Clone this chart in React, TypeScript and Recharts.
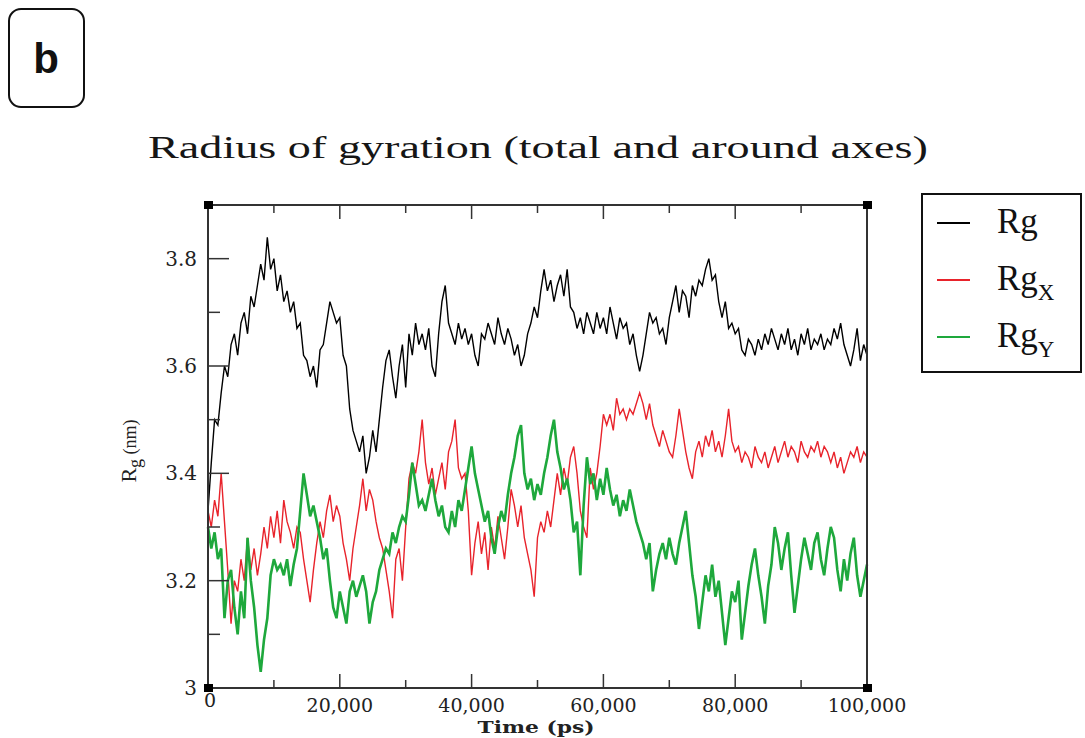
import React from 'react'
import { LineChart, Line, XAxis, YAxis, Legend, Label } from 'recharts'

// samples are 500 ps apart, from 0 to 100,000 ps
const TIME_STEP = 500

const rg = [
  3.33, 3.42, 3.5, 3.49, 3.55, 3.6, 3.58, 3.64, 3.66, 3.62,
  3.68, 3.7, 3.66, 3.73, 3.71, 3.75, 3.79, 3.76, 3.84, 3.78,
  3.8, 3.74, 3.77, 3.72, 3.74, 3.7, 3.72, 3.67, 3.68, 3.62,
  3.61, 3.58, 3.6, 3.56, 3.63, 3.64, 3.68, 3.72, 3.7, 3.68,
  3.69, 3.62, 3.6, 3.52, 3.48, 3.46, 3.44, 3.47, 3.4, 3.43,
  3.48, 3.44, 3.5, 3.56, 3.61, 3.63, 3.58, 3.54, 3.6, 3.64,
  3.56, 3.66, 3.62, 3.68, 3.64, 3.66, 3.63, 3.67, 3.6, 3.58,
  3.66, 3.72, 3.75, 3.68, 3.66, 3.64, 3.68, 3.65, 3.67, 3.64,
  3.66, 3.62, 3.6, 3.66, 3.65, 3.68, 3.66, 3.64, 3.69, 3.66,
  3.64, 3.67, 3.65, 3.62, 3.64, 3.6, 3.62, 3.66, 3.68, 3.71,
  3.69, 3.74, 3.78, 3.74, 3.76, 3.72, 3.75, 3.77, 3.73, 3.78,
  3.71, 3.7, 3.67, 3.69, 3.66, 3.7, 3.68, 3.66, 3.7, 3.67,
  3.69, 3.66, 3.71, 3.68, 3.65, 3.69, 3.67, 3.68, 3.64, 3.66,
  3.62, 3.59, 3.62, 3.66, 3.7, 3.68, 3.69, 3.66, 3.67, 3.64,
  3.69, 3.72, 3.75, 3.7, 3.74, 3.73, 3.69, 3.75, 3.73, 3.76,
  3.75, 3.78, 3.8, 3.76, 3.77, 3.72, 3.69, 3.72, 3.67, 3.68,
  3.66, 3.67, 3.63, 3.62, 3.65, 3.64, 3.62, 3.65, 3.63, 3.66,
  3.64, 3.67, 3.65, 3.63, 3.66, 3.64, 3.67, 3.63, 3.65, 3.62,
  3.66, 3.64, 3.67, 3.63, 3.65, 3.64, 3.66, 3.63, 3.65, 3.64,
  3.67, 3.65, 3.68, 3.64, 3.62, 3.6, 3.63, 3.67, 3.61, 3.64,
  3.62,
]

const rgX = [
  3.33, 3.3, 3.35, 3.32, 3.4, 3.31, 3.22, 3.12, 3.2, 3.18,
  3.24, 3.2, 3.28, 3.22, 3.26, 3.21, 3.25, 3.3, 3.26, 3.32,
  3.28, 3.33, 3.27, 3.35, 3.31, 3.29, 3.26, 3.3, 3.29, 3.24,
  3.2, 3.16, 3.22, 3.27, 3.31, 3.28, 3.33, 3.36, 3.31, 3.34,
  3.32, 3.27, 3.24, 3.2, 3.26, 3.3, 3.34, 3.39, 3.33, 3.37,
  3.35, 3.31, 3.28, 3.26, 3.22, 3.18, 3.13, 3.24, 3.26, 3.2,
  3.3, 3.39, 3.42, 3.4, 3.44, 3.5, 3.42, 3.38, 3.41, 3.36,
  3.39, 3.42, 3.37, 3.44, 3.46, 3.5, 3.41, 3.39, 3.4, 3.33,
  3.21, 3.27, 3.31, 3.25, 3.29, 3.22, 3.3, 3.26, 3.32, 3.28,
  3.24, 3.3, 3.37, 3.34, 3.3, 3.34, 3.28, 3.25, 3.22, 3.17,
  3.28, 3.31, 3.29, 3.33, 3.3, 3.35, 3.4, 3.36, 3.41, 3.38,
  3.43, 3.45, 3.4, 3.33, 3.3, 3.28, 3.41, 3.37, 3.4, 3.45,
  3.51, 3.49, 3.51, 3.48, 3.54, 3.51, 3.52, 3.5, 3.52, 3.51,
  3.53, 3.55, 3.53, 3.5, 3.53, 3.49, 3.47, 3.45, 3.48, 3.46,
  3.44, 3.43, 3.47, 3.52, 3.48, 3.44, 3.41, 3.39, 3.44, 3.46,
  3.43, 3.47, 3.45, 3.48, 3.44, 3.46, 3.43, 3.47, 3.52, 3.46,
  3.44, 3.45, 3.42, 3.44, 3.43, 3.41, 3.45, 3.43, 3.42, 3.44,
  3.41, 3.43, 3.45, 3.42, 3.44, 3.46, 3.43, 3.45, 3.44, 3.42,
  3.46, 3.44, 3.43, 3.45, 3.44, 3.46, 3.43, 3.45, 3.44, 3.42,
  3.44, 3.41, 3.43, 3.4, 3.42, 3.44, 3.43, 3.45, 3.42, 3.44,
  3.43,
]

const rgY = [
  3.3, 3.26, 3.29, 3.24, 3.26, 3.13, 3.2, 3.22, 3.15, 3.1,
  3.18, 3.13, 3.28, 3.2, 3.15, 3.08, 3.03, 3.09, 3.13, 3.21,
  3.24, 3.22, 3.23, 3.21, 3.24, 3.19, 3.23, 3.26, 3.33, 3.4,
  3.36, 3.32, 3.34, 3.31, 3.28, 3.24, 3.26, 3.2, 3.15, 3.13,
  3.18, 3.15, 3.12, 3.18, 3.2, 3.17, 3.19, 3.21, 3.18, 3.12,
  3.16, 3.18, 3.22, 3.24, 3.26, 3.25, 3.29, 3.27, 3.3, 3.32,
  3.31, 3.36, 3.42, 3.38, 3.34, 3.35, 3.33, 3.36, 3.39, 3.35,
  3.32, 3.34, 3.3, 3.29, 3.33, 3.3, 3.35, 3.33, 3.37, 3.41,
  3.45, 3.4, 3.37, 3.34, 3.31, 3.33, 3.28, 3.25, 3.3, 3.33,
  3.31, 3.36, 3.4, 3.43, 3.47, 3.49, 3.4, 3.37, 3.39, 3.35,
  3.38, 3.36, 3.4, 3.43, 3.47, 3.5, 3.44, 3.41, 3.37, 3.39,
  3.35, 3.29, 3.31, 3.21, 3.34, 3.43, 3.38, 3.4, 3.35, 3.39,
  3.36, 3.41, 3.37, 3.34, 3.36, 3.32, 3.35, 3.33, 3.37, 3.34,
  3.31, 3.29, 3.27, 3.24, 3.27, 3.18, 3.22, 3.25, 3.27, 3.24,
  3.28, 3.25, 3.23, 3.27, 3.3, 3.33, 3.27, 3.21, 3.17, 3.11,
  3.16, 3.21, 3.18, 3.23, 3.17, 3.2, 3.14, 3.08, 3.13, 3.18,
  3.16, 3.2, 3.09, 3.14, 3.19, 3.23, 3.26, 3.21, 3.17, 3.12,
  3.19, 3.23, 3.3, 3.27, 3.22, 3.26, 3.29, 3.21, 3.14, 3.19,
  3.24, 3.28, 3.25, 3.22, 3.27, 3.29, 3.24, 3.21, 3.26, 3.3,
  3.28, 3.22, 3.18, 3.24, 3.2, 3.25, 3.28, 3.21, 3.17, 3.2,
  3.23,
]

const xTicks = [0, 10000, 20000, 30000, 40000, 50000, 60000, 70000, 80000, 90000, 100000]
const yTicks = [3, 3.1, 3.2, 3.3, 3.4, 3.5, 3.6, 3.7, 3.8, 3.9]

const series = [
  { key: 'rg', name: 'Rg', sub: '', color: '#000000', width: 1.4 },
  { key: 'rgX', name: 'Rg', sub: 'X', color: '#e8232b', width: 1.4 },
  { key: 'rgY', name: 'Rg', sub: 'Y', color: '#1ea83c', width: 2.6 },
]

const data = rg.map((v, i) => ({ time: i * TIME_STEP, rg: v, rgX: rgX[i], rgY: rgY[i] }))

const AXIS = '#333'
const TICK_FONT = '"DejaVu Serif", serif'
const TEXT_FONT = '"Liberation Serif", "Times New Roman", serif'

const corner = (x: number, y: number) => <rect x={x - 4} y={y - 4} width={9} height={8} fill="#000" />

const isMajorY = (v: number) => Math.round(v * 10) % 2 === 0
const isEndY = (v: number) => v === 3 || v === 3.9
const isEndX = (v: number) => v === 0 || v === 100000

function LeftTick({ x, y, payload }: any) {
  const v = payload.value
  const major = isMajorY(v)
  return (
    <g>
      {isEndY(v) ? corner(x, y) : <line x1={x} x2={x + (major ? 21 : 12)} y1={y} y2={y} stroke={AXIS} strokeWidth={1.5} />}
      {major && (
        <text x={x - 11} y={y} textAnchor="end" dominantBaseline="central" fontFamily={TICK_FONT} fontSize={20} fill="#222">
          {v === 3 ? '3' : v.toFixed(1)}
        </text>
      )}
    </g>
  )
}

function RightTick({ x, y, payload }: any) {
  const v = payload.value
  if (isEndY(v)) return corner(x, y)
  return <line x1={x} x2={x - (isMajorY(v) ? 21 : 12)} y1={y} y2={y} stroke={AXIS} strokeWidth={1.5} />
}

function BottomTick({ x, y, payload }: any) {
  const v = payload.value
  const major = v % 20000 === 0
  return (
    <g>
      {isEndX(v) ? corner(x, y) : <line x1={x} x2={x} y1={y} y2={y - (major ? 14 : 8)} stroke={AXIS} strokeWidth={1.5} />}
      {major && (
        <text x={v === 0 ? x + 2 : x} y={v === 0 ? y + 19 : y + 24} textAnchor="middle" fontFamily={TICK_FONT} fontSize={19} fill="#222">
          {v === 0 ? '0' : v.toLocaleString('en-US')}
        </text>
      )}
    </g>
  )
}

function TopTick({ x, y, payload }: any) {
  const v = payload.value
  if (isEndX(v)) return corner(x, y)
  return <line x1={x} x2={x} y1={y} y2={y + (v % 20000 === 0 ? 14 : 8)} stroke={AXIS} strokeWidth={1.5} />
}

function LegendBox({ payload }: any) {
  return (
    <svg width={161} height={180}>
      <rect x={1} y={1} width={159} height={178} fill="#fff" stroke="#111" strokeWidth={2} />
      {(payload ?? []).map((p: any, i: number) => {
        const s = series.find((d) => d.key === p.dataKey) ?? series[i]
        const cy = 30 + i * 57
        return (
          <g key={s.key}>
            <line x1={16} x2={49} y1={cy} y2={cy} stroke={p.color} strokeWidth={2} />
            <text x={76} y={cy + 10} fontFamily={TEXT_FONT} fontSize={35} fill="#111">
              {s.name}
              {s.sub && (
                <tspan fontSize={23} dy={10}>
                  {s.sub}
                </tspan>
              )}
            </text>
          </g>
        )
      })}
    </svg>
  )
}

export default function App() {
  return (
    <div style={{ position: 'absolute', left: 0, top: 0, width: 1085, height: 738, background: '#fff' }}>
      <LineChart width={1085} height={738} data={data} margin={{ top: 195, right: 208, bottom: 20, left: 118 }}>
        <XAxis
          dataKey="time"
          type="number"
          domain={[0, 100000]}
          ticks={xTicks}
          interval={0}
          height={30}
          tickSize={0}
          tickMargin={0}
          tickLine={false}
          axisLine={{ stroke: AXIS, strokeWidth: 2 }}
          tick={<BottomTick />}
        >
          <Label
            content={() => (
              <text x={536} y={733} textAnchor="middle" fontFamily={TICK_FONT} fontWeight="bold" fontSize={17} fill="#222" textLength={117} lengthAdjust="spacingAndGlyphs">
                Time (ps)
              </text>
            )}
          />
        </XAxis>
        <XAxis
          xAxisId="top"
          orientation="top"
          dataKey="time"
          type="number"
          domain={[0, 100000]}
          ticks={xTicks}
          interval={0}
          height={10}
          tickSize={0}
          tickMargin={0}
          tickLine={false}
          axisLine={{ stroke: AXIS, strokeWidth: 2 }}
          tick={<TopTick />}
        />
        <YAxis
          type="number"
          domain={[3, 3.9]}
          ticks={yTicks}
          interval={0}
          allowDataOverflow
          width={90}
          tickSize={0}
          tickMargin={0}
          tickLine={false}
          axisLine={{ stroke: AXIS, strokeWidth: 2 }}
          tick={<LeftTick />}
        >
          <Label
            content={() => (
              <text transform="translate(136,451) rotate(-90)" textAnchor="middle" fontFamily={TEXT_FONT} fontSize={22} fill="#222">
                R<tspan fontSize={18} dy={5}>g</tspan>
                <tspan fontSize={18} dy={-5}> (nm)</tspan>
              </text>
            )}
          />
        </YAxis>
        <YAxis
          yAxisId="right"
          orientation="right"
          type="number"
          domain={[3, 3.9]}
          ticks={yTicks}
          interval={0}
          width={10}
          tickSize={0}
          tickMargin={0}
          tickLine={false}
          axisLine={{ stroke: AXIS, strokeWidth: 2 }}
          tick={<RightTick />}
        />
        {series.map((s) => (
          <Line
            key={s.key}
            type="linear"
            dataKey={s.key}
            name={s.sub ? s.name + s.sub : s.name}
            stroke={s.color}
            strokeWidth={s.width}
            dot={false}
            isAnimationActive={false}
          />
        ))}
        <Legend
          layout="horizontal"
          verticalAlign="middle"
          align="center"
          wrapperStyle={{ left: 921, top: 193, width: 161, height: 180 }}
          content={<LegendBox />}
        />
      </LineChart>
      <svg width={1085} height={190} style={{ position: 'absolute', left: 0, top: 0, pointerEvents: 'none' }}>
        <rect x={9} y={9} width={75} height={98} rx={12} fill="none" stroke="#111" strokeWidth={2} />
        <text x={46} y={73} textAnchor="middle" fontFamily='"Liberation Sans", Arial, sans-serif' fontWeight="bold" fontSize={42} fill="#111">
          b
        </text>
        <text x={148} y={158} fontFamily={TEXT_FONT} fontSize={31} fill="#161616" textLength={780} lengthAdjust="spacingAndGlyphs">
          Radius of gyration (total and around axes)
        </text>
      </svg>
    </div>
  )
}
